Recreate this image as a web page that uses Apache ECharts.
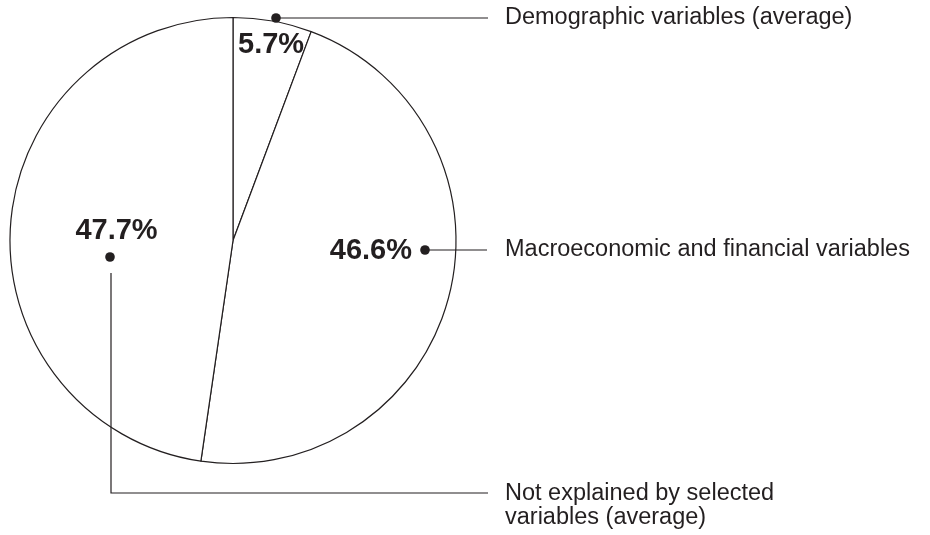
<!DOCTYPE html>
<html>
<head>
<meta charset="utf-8">
<script src="https://cdn.jsdelivr.net/npm/echarts@6/dist/echarts.min.js"></script>
<style>
html,body{margin:0;padding:0;background:#fff;}
#chart{width:930px;height:535px;}
</style>
</head>
<body>
<div id="chart"></div>
<script>
// ---- data ----
const categories = ['Demographic variables (average)', 'Macroeconomic and financial variables', 'Not explained by selected variables (average)'];
const shares = [5.7, 46.6, 47.7];
const displayNames = ['Demographic variables (average)', 'Macroeconomic and financial variables', 'Not explained by selected\nvariables (average)'];

// ---- layout ----
const INK = '#231f20';
const FONT = 'Liberation Sans, Arial, Helvetica, sans-serif';
const pieCenter = [233, 240.5];
const pieRadius = 223;
// percent label anchors
const pctLabelPos = [
  {x: 238, y: 45, align: 'left'},
  {x: 412, y: 250.5, align: 'right'},
  {x: 116.5, y: 231, align: 'center'}
];
// leader lines: dot + polyline, then name text
const leaders = [
  {dot: [276, 18], pts: [[276, 18], [488, 18]], text: [505, 18]},
  {dot: [425, 250], pts: [[425, 250], [487, 250]], text: [505, 250]},
  {dot: [110, 257], pts: [[111, 273], [111, 493], [488, 493]], text: [505, 494]}
];

const chart = echarts.init(document.getElementById('chart'), null, {renderer: 'canvas'});

const graphics = [];
leaders.forEach((l, i) => {
  graphics.push({
    type: 'polyline', silent: true, z: 100,
    shape: {points: l.pts},
    style: {stroke: INK, lineWidth: 1.2, fill: null}
  });
  graphics.push({
    type: 'circle', silent: true, z: 100,
    shape: {cx: l.dot[0], cy: l.dot[1], r: 4.8},
    style: {fill: INK}
  });
  graphics.push({
    type: 'text', silent: true, z: 100,
    x: l.text[0], y: i === 2 ? l.text[1] - 12 : l.text[1],
    style: {
      text: displayNames[i],
      fill: INK,
      font: '23.5px ' + FONT,
      lineHeight: 23.5,
      textAlign: 'left',
      textVerticalAlign: i === 2 ? 'top' : 'middle'
    }
  });
});

chart.setOption({
  animation: false,
  backgroundColor: '#ffffff',
  series: [{
    type: 'pie',
    center: pieCenter,
    radius: pieRadius,
    startAngle: 90,
    clockwise: true,
    silent: true,
    itemStyle: {color: '#ffffff', borderColor: INK, borderWidth: 1.2},
    label: {
      show: true,
      position: 'inside',
      formatter: p => p.value + '%',
      color: INK,
      fontFamily: FONT,
      fontWeight: 'bold',
      fontSize: 29
    },
    labelLine: {show: false},
    labelLayout: function (params) {
      const p = pctLabelPos[params.dataIndex];
      return {x: p.x, y: p.y, align: p.align, verticalAlign: 'middle'};
    },
    data: categories.map((c, i) => ({name: c, value: shares[i]}))
  }],
  graphic: graphics
});
</script>
</body>
</html>
